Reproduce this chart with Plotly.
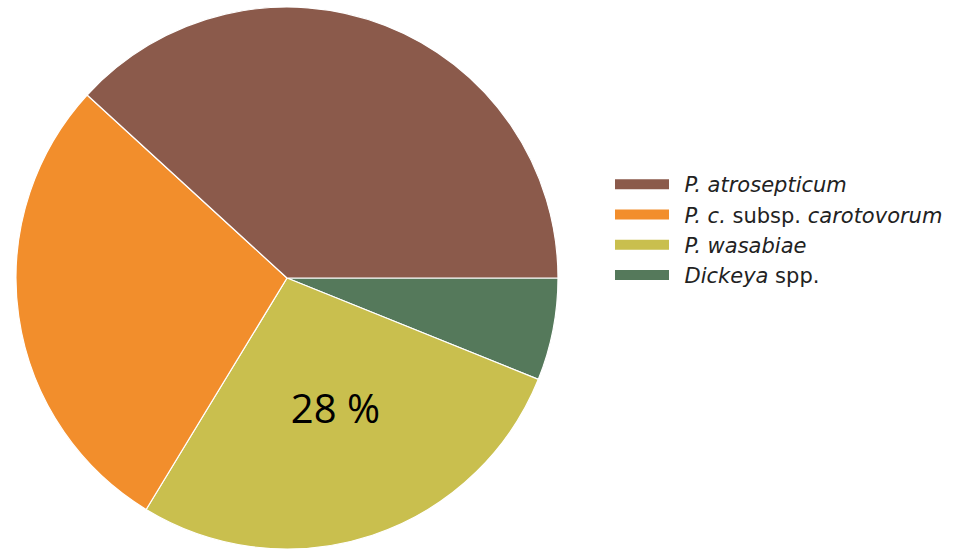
import plotly.graph_objects as go

labels = ["<i>P. atrosepticum</i>", "<i>P. c.</i> subsp. <i>carotovorum</i>",
          "<i>P. wasabiae</i>", "<i>Dickeya</i> spp."]
values = [38.2, 28.1, 27.6, 6.1]
slice_text = ["", "", "28 %", ""]
colors = ["#8B5A4B", "#F28E2C", "#C9BF4E", "#55795B"]

fig = go.Figure()
# pie drawn clockwise from 3 o'clock in reverse order, so the slices run
# counter-clockwise (brown first) like the reference
fig.add_trace(go.Pie(
    labels=labels[::-1], values=values[::-1],
    text=["<span style='font-size:40px'>" + t + "</span><br> " if t else t
          for t in slice_text[::-1]],
    textinfo="text", sort=False, direction="clockwise", rotation=90,
    marker=dict(colors=colors[::-1], line=dict(color="white", width=1.2)),
    textposition="inside", insidetextorientation="horizontal",
    textfont=dict(family="Open Sans", size=28, color="black"),
    domain=dict(x=[16/959, 558/959], y=[0, 542/549]),
    showlegend=False, hoverinfo="label+percent",
))
for lab, col in zip(labels, colors):
    fig.add_trace(go.Scatter(
        x=[None], y=[None], mode="lines", name="\u2002" + lab, legendgroup=lab,
        line=dict(color=col, width=10), showlegend=True,
    ))

fig.update_layout(
    width=959, height=549,
    margin=dict(l=0, r=0, t=0, b=0),
    paper_bgcolor="white", plot_bgcolor="white",
    xaxis=dict(visible=False), yaxis=dict(visible=False),
    legend=dict(x=610/959, y=1-164/549, xanchor="left", yanchor="top",
                font=dict(family="DejaVu Sans", size=21, color="#222222"),
                itemwidth=54, tracegroupgap=0, bgcolor="rgba(0,0,0,0)"),
)
fig.write_html("out.html")
